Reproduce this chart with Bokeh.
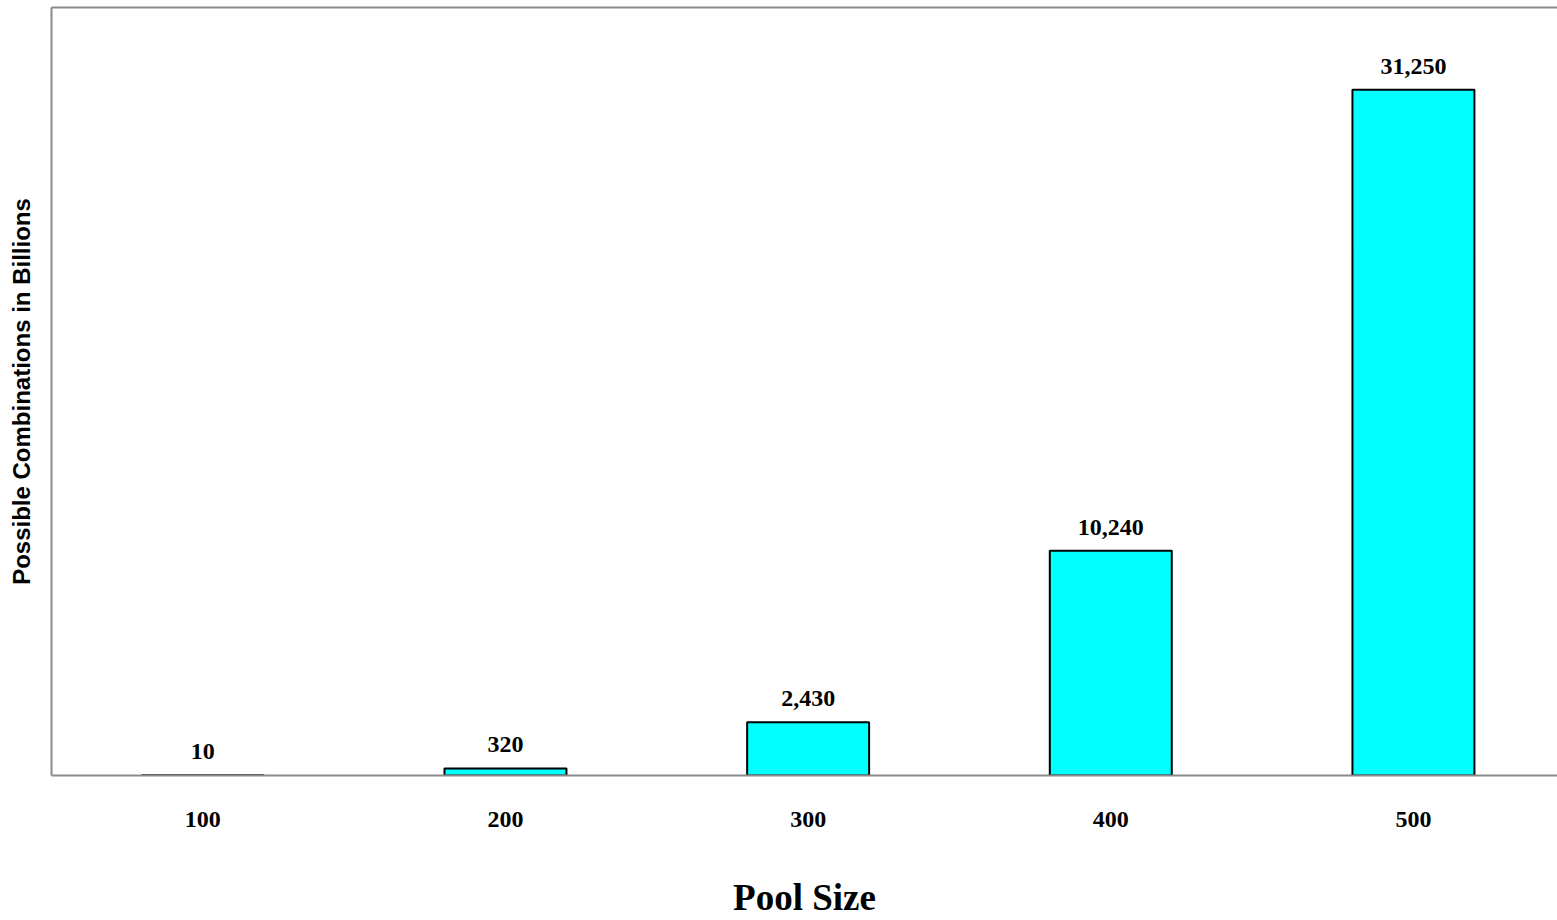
from bokeh.plotting import figure
from bokeh.models import Range1d, FixedTicker, LinearAxis, ColumnDataSource
from bokeh.core.properties import value
from bokeh.embed import file_html
from bokeh.resources import INLINE

pool_sizes = [100, 200, 300, 400, 500]
combinations = [10, 320, 2430, 10240, 31250]
value_labels = [f"{v:,}" for v in combinations]

src = ColumnDataSource(dict(x=pool_sizes, top=combinations, label=value_labels))

p = figure(width=1557, height=920, output_backend="svg", toolbar_location=None,
           x_range=Range1d(50, 547.6), y_range=Range1d(0, 35000),
           min_border_left=51, min_border_right=0, min_border_top=7, min_border_bottom=145)
p.background_fill_color = "white"
p.border_fill_color = "white"
p.outline_line_color = None
p.xgrid.visible = False
p.ygrid.visible = False

p.vbar(x="x", top="top", bottom=0, width=40.3, source=src,
       fill_color="#00FFFF", line_color="black", line_width=2)

p.text(x="x", y="top", text="label", source=src, text_align="center",
       text_baseline="bottom", y_offset=-16,
       text_font=value("Liberation Serif"), text_font_style="bold",
       text_font_size="24px", text_color="black")

gray = "#8a8a8a"

# bottom axis
xa = p.xaxis[0]
xa.ticker = FixedTicker(ticks=pool_sizes)
xa.axis_line_color = gray
xa.axis_line_width = 2
xa.major_tick_line_color = None
xa.minor_tick_line_color = None
xa.major_label_standoff = 30
xa.major_label_text_font = "Liberation Serif"
xa.major_label_text_font_style = "bold"
xa.major_label_text_font_size = "24px"
xa.major_label_text_color = "black"
xa.axis_label = "Pool Size"
xa.axis_label_standoff = 47
xa.axis_label_text_font = "Liberation Serif"
xa.axis_label_text_font_style = "bold"
xa.axis_label_text_font_size = "37px"
xa.axis_label_text_color = "black"

# left axis
ya = p.yaxis[0]
ya.ticker = FixedTicker(ticks=[])
ya.axis_line_color = gray
ya.axis_line_width = 2
ya.major_tick_line_color = None
ya.minor_tick_line_color = None
ya.axis_label = "Possible Combinations in Billions"
ya.axis_label_standoff = 17
ya.axis_label_text_font = "Liberation Sans"
ya.axis_label_text_font_style = "bold"
ya.axis_label_text_font_size = "24px"
ya.axis_label_text_color = "black"

# top border line
top_axis = LinearAxis(ticker=FixedTicker(ticks=[]), axis_line_color=gray, axis_line_width=2,
                      major_tick_line_color=None, minor_tick_line_color=None,
                      major_label_text_font_size="0px")
p.add_layout(top_axis, "above")

open("out.html", "w").write(file_html(p, INLINE))
